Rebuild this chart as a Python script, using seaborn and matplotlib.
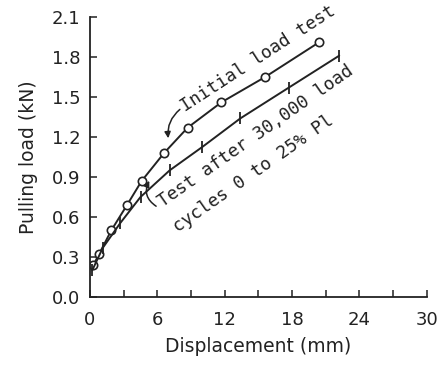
import matplotlib
matplotlib.use("Agg")
import matplotlib.pyplot as plt
import seaborn as sns
import pandas as pd

# Data
initial_x = [0.3, 0.8, 1.9, 3.3, 4.6, 6.6, 8.7, 11.7, 15.6, 20.4]
initial_y = [0.24, 0.32, 0.50, 0.69, 0.87, 1.08, 1.27, 1.46, 1.65, 1.91]
cyclic_x = [0.2, 1.15, 2.7, 4.5, 7.1, 10.0, 13.4, 17.7, 22.2]
cyclic_y = [0.20, 0.37, 0.555, 0.75, 0.95, 1.125, 1.34, 1.57, 1.81]
x_ticks = [0, 6, 12, 18, 24, 30]
y_ticks = [0.0, 0.3, 0.6, 0.9, 1.2, 1.5, 1.8, 2.1]

sns.set_style("ticks")
plt.rcParams['font.family'] = ['DejaVu Sans']

fig = plt.figure(figsize=(4.4, 3.67), dpi=100)
ax = fig.add_axes([0.2045, 0.1907, 0.7655, 0.763])

df1 = pd.DataFrame({"x": initial_x, "y": initial_y})
df2 = pd.DataFrame({"x": cyclic_x, "y": cyclic_y})
sns.lineplot(data=df1, x="x", y="y", ax=ax, color="#222222", lw=1.4,
             marker="o", markersize=6, markerfacecolor="white",
             markeredgecolor="#222222", markeredgewidth=1.2, sort=False)
sns.lineplot(data=df2, x="x", y="y", ax=ax, color="#222222", lw=1.4,
             marker="|", markersize=9, markeredgewidth=1.3,
             markeredgecolor="#222222", sort=False)

ax.set_xlim(0, 30)
ax.set_ylim(0, 2.1)
ax.set_xticks(x_ticks)
ax.set_xticks([3, 9, 15, 21, 27], minor=True)
ax.set_yticks(y_ticks)
ax.set_yticklabels([f"{v:.1f}" for v in y_ticks])
ax.tick_params(which="both", direction="in", length=5, width=1.1,
               labelsize=13, color="#222222", labelcolor="#222222", pad=7)
ax.tick_params(axis="x", pad=10)
for s in ["top", "right"]:
    ax.spines[s].set_visible(False)
for s in ["left", "bottom"]:
    ax.spines[s].set_linewidth(1.3)
    ax.spines[s].set_color("#222222")

ax.set_xlabel("Displacement (mm)", fontsize=13.5, color="#222222", labelpad=6)
ax.set_ylabel("Pulling load (kN)", fontsize=13.5, color="#222222", labelpad=10)

ann_font = dict(family=["DejaVu Sans Mono", "DejaVu Sans"], size=12.8, color="#222222")
ax.text(8.5, 1.39, "Initial load test", rotation=33, rotation_mode="anchor",
        ha="left", va="baseline", **ann_font)
ax.text(6.45, 0.675, "Test after 30,000 load", rotation=35, rotation_mode="anchor",
        ha="left", va="baseline", **ann_font)
ax.text(7.8, 0.48, "cycles 0 to 25% Pl", rotation=35, rotation_mode="anchor",
        ha="left", va="baseline", **ann_font)

ax.annotate("", xy=(7.0, 1.17), xytext=(8.2, 1.42),
            arrowprops=dict(arrowstyle="-|>", color="#222222", lw=1.1,
                            mutation_scale=9,
                            connectionstyle="arc3,rad=0.3"))
ax.annotate("", xy=(5.4, 0.89), xytext=(6.1, 0.67),
            arrowprops=dict(arrowstyle="-|>", color="#222222", lw=1.1,
                            mutation_scale=9,
                            connectionstyle="arc3,rad=-0.5"))

fig.savefig("out.png", dpi=100)
